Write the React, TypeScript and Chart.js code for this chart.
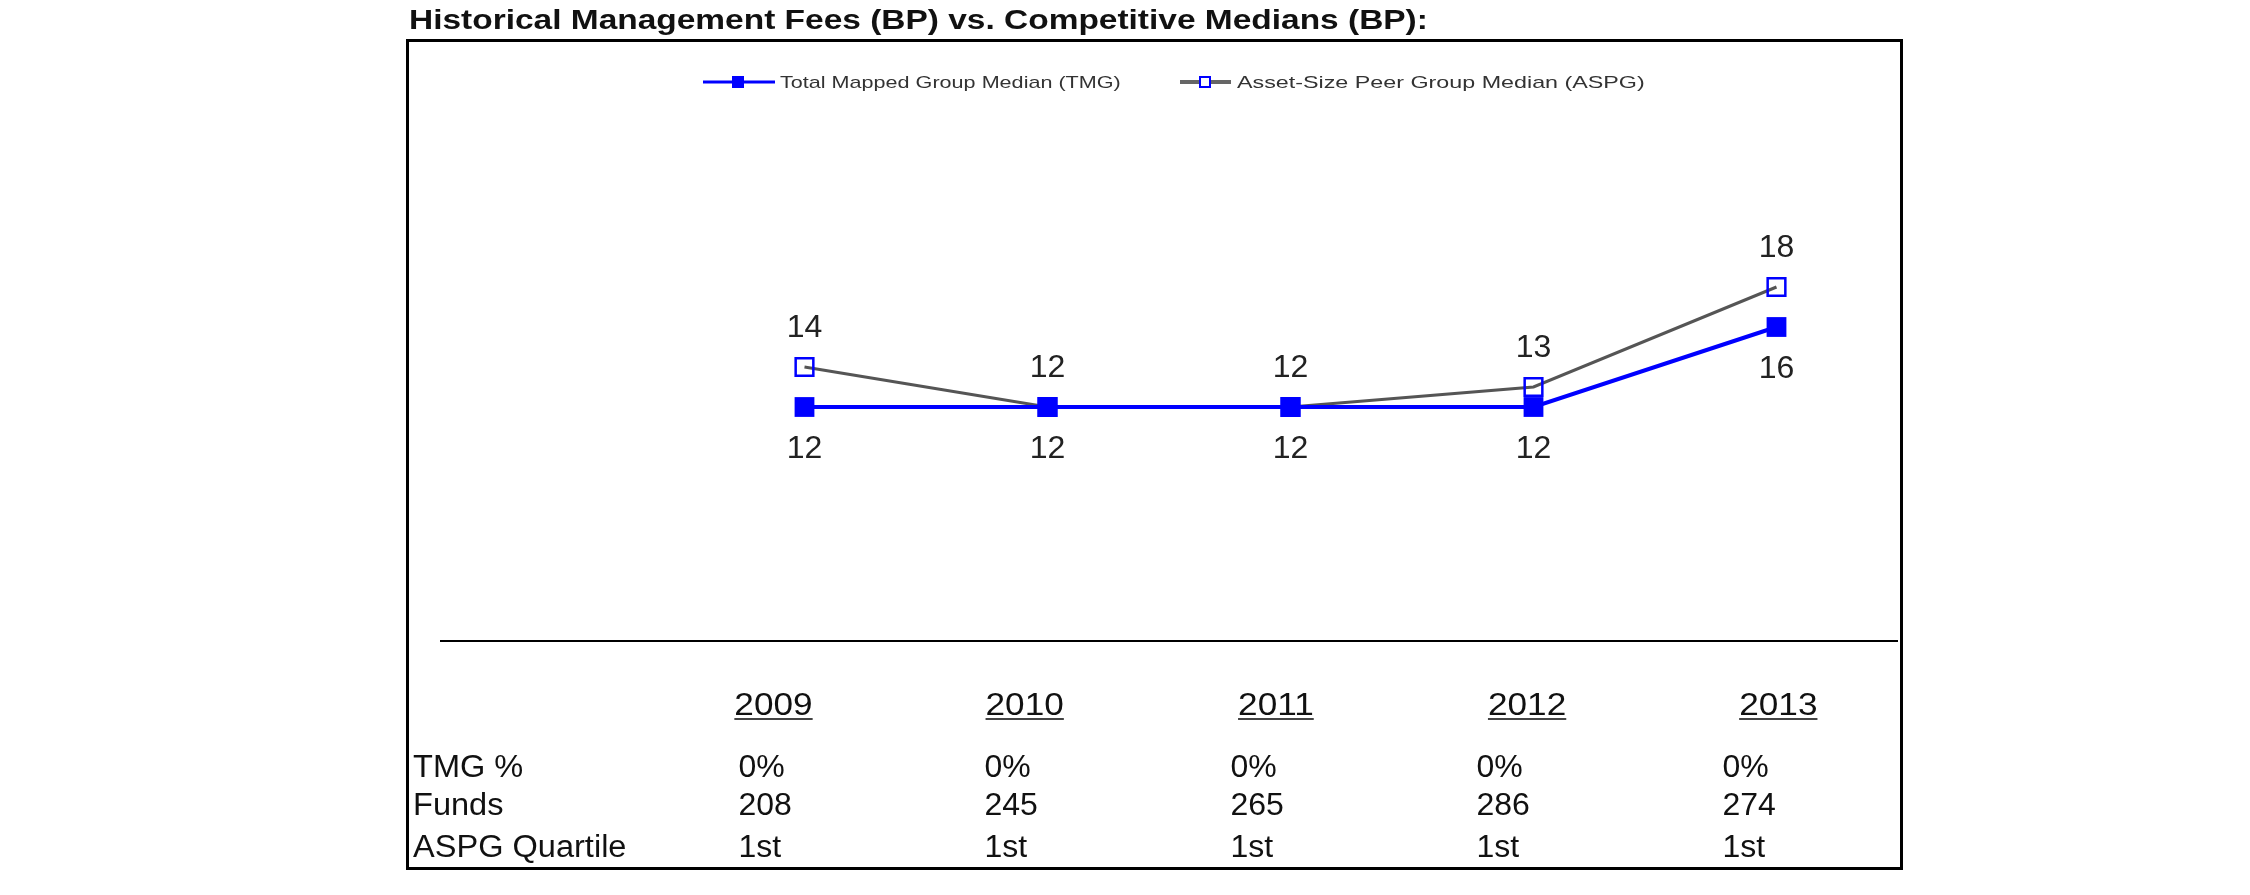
import React, { useEffect, useRef } from 'react';
import { Chart, registerables } from 'chart.js';

Chart.register(...registerables);

const TITLE = 'Historical Management Fees (BP) vs. Competitive Medians (BP):';
const years = ['2009', '2010', '2011', '2012', '2013'];
const tmgValues = [12, 12, 12, 12, 16];
const aspgValues = [14, 12, 12, 13, 18];
const seriesNames = ['Total Mapped Group Median (TMG)', 'Asset-Size Peer Group Median (ASPG)'];
const rowLabels = ['TMG %', 'Funds', 'ASPG Quartile'];
const tmgPct = ['0%', '0%', '0%', '0%', '0%'];
const funds = ['208', '245', '265', '286', '274'];
const aspgQuartile = ['1st', '1st', '1st', '1st', '1st'];

const FONT = '"Liberation Sans", Arial, Helvetica, sans-serif';
const BLUE = '#0000ff';
const GREY = '#555555';

function stretchText(ctx: CanvasRenderingContext2D, text: string, x: number, y: number, sx: number) {
  ctx.save();
  ctx.translate(x, y);
  ctx.scale(sx, 1);
  ctx.fillText(text, 0, 0);
  ctx.restore();
}

const decorPlugin = {
  id: 'decor',
  afterDraw(chart: any) {
    const { ctx, chartArea: ca, scales } = chart;
    const xs = scales.x;
    ctx.save();

    // frame
    ctx.strokeStyle = '#000';
    ctx.lineWidth = 3;
    ctx.strokeRect(407.5, 40.5, 1494, 828);

    // title
    ctx.fillStyle = '#111';
    ctx.font = `bold 28px ${FONT}`;
    ctx.textAlign = 'left';
    ctx.textBaseline = 'alphabetic';
    stretchText(ctx, TITLE, 409, 29, 1.195);

    // axis line
    ctx.strokeStyle = '#000';
    ctx.lineWidth = 2;
    ctx.beginPath();
    ctx.moveTo(ca.left, ca.bottom - 6);
    ctx.lineTo(ca.right, ca.bottom - 6);
    ctx.stroke();

    // legend
    const ly = 82;
    ctx.strokeStyle = BLUE;
    ctx.lineWidth = 3;
    ctx.beginPath();
    ctx.moveTo(703, ly);
    ctx.lineTo(775, ly);
    ctx.stroke();
    ctx.fillStyle = BLUE;
    ctx.fillRect(732, ly - 6, 12, 12);
    ctx.fillStyle = '#333';
    ctx.font = `17px ${FONT}`;
    stretchText(ctx, seriesNames[0], 780, ly + 6, 1.27);

    ctx.strokeStyle = '#666';
    ctx.lineWidth = 4;
    ctx.beginPath();
    ctx.moveTo(1180, ly);
    ctx.lineTo(1231, ly);
    ctx.stroke();
    ctx.fillStyle = '#fff';
    ctx.fillRect(1200, ly - 5, 10, 10);
    ctx.strokeStyle = BLUE;
    ctx.lineWidth = 2;
    ctx.strokeRect(1200, ly - 5, 10, 10);
    ctx.fillStyle = '#333';
    stretchText(ctx, seriesNames[1], 1237, ly + 6, 1.37);

    // table header (years, underlined)
    ctx.fillStyle = '#111';
    ctx.font = `32px ${FONT}`;
    ctx.textAlign = 'left';
    years.forEach((y, i) => {
      const cx = xs.getPixelForValue(i + 1) - 31 + 8.2 * i;
      const w = ctx.measureText(y).width * 1.1;
      stretchText(ctx, y, cx - w / 2, 715, 1.1);
      ctx.fillStyle = '#444';
      ctx.fillRect(cx - w / 2, 718, w, 2);
      ctx.fillStyle = '#111';
    });

    // table rows
    const rowsY = [777, 815, 857];
    ctx.font = `31px ${FONT}`;
    rowLabels.forEach((r, k) => stretchText(ctx, r, ca.left - 27, rowsY[k], 1.05));
    const rows = [tmgPct, funds, aspgQuartile];
    ctx.font = `32px ${FONT}`;
    rows.forEach((row, k) => {
      row.forEach((v, i) => {
        ctx.fillText(v, xs.getPixelForValue(i + 1) - 66 + 3 * i, rowsY[k]);
      });
    });
    ctx.restore();
  },
  afterDatasetsDraw(chart: any) {
    const { ctx } = chart;
    ctx.save();
    ctx.font = `32px ${FONT}`;
    ctx.fillStyle = '#222';
    ctx.textAlign = 'center';
    ctx.textBaseline = 'middle';
    const m0 = chart.getDatasetMeta(0);
    m0.data.forEach((pt: any, i: number) => {
      if (i === 0) return;
      ctx.fillText(String(tmgValues[i - 1]), pt.x, pt.y + 42);
    });
    const m1 = chart.getDatasetMeta(1);
    m1.data.forEach((pt: any, i: number) => {
      if (i === 0) return;
      ctx.fillText(String(aspgValues[i - 1]), pt.x, pt.y - 39);
    });
    ctx.restore();
  },
};

export default function App() {
  const ref = useRef<HTMLCanvasElement>(null);
  useEffect(() => {
    if (!ref.current) return;
    const chart = new Chart(ref.current, {
      type: 'line',
      data: {
        labels: ['', ...years],
        datasets: [
          {
            label: seriesNames[0],
            data: [null, ...tmgValues],
            borderColor: BLUE,
            backgroundColor: BLUE,
            borderWidth: 4,
            pointStyle: 'rect',
            pointRadius: 14,
            pointBorderWidth: 0,
            pointBackgroundColor: BLUE,
            tension: 0,
          },
          {
            label: seriesNames[1],
            data: [null, ...aspgValues],
            borderColor: GREY,
            backgroundColor: 'rgba(0,0,0,0)',
            borderWidth: 3,
            pointStyle: 'rect',
            pointRadius: 12.5,
            pointBorderWidth: 2.5,
            pointBorderColor: BLUE,
            pointBackgroundColor: 'rgba(255,255,255,0)',
            tension: 0,
          },
        ],
      },
      options: {
        responsive: false,
        animation: false,
        devicePixelRatio: 1,
        events: [],
        layout: { padding: { left: 440, right: 352, top: 147, bottom: 248 } },
        plugins: { legend: { display: false }, title: { display: false }, tooltip: { enabled: false } },
        scales: {
          x: { type: 'category', offset: true, display: false },
          y: { min: 0, max: 25, display: false },
        },
      },
      plugins: [decorPlugin],
    });
    return () => chart.destroy();
  }, []);
  return (
    <div style={{ position: 'absolute', left: 0, top: 0, width: 2250, height: 895, background: '#fff' }}>
      <canvas ref={ref} width={2250} height={895} style={{ display: 'block', width: 2250, height: 895 }} />
    </div>
  );
}
